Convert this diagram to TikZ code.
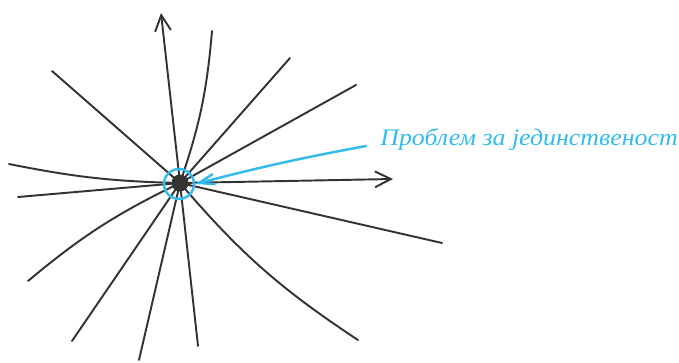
\documentclass[tikz,border=0pt]{standalone}
\usepackage{fontspec}
\usepackage{graphicx}
\usepackage{xcolor}
\usepackage{tikz}
\usetikzlibrary{arrows.meta,positioning}
\newfontfamily\srbfont[Script=Cyrillic,Language=Serbian]{Liberation Serif}
\definecolor{inkgray}{HTML}{333333}
\definecolor{markblue}{HTML}{33BBEE}

\begin{document}
\begin{tikzpicture}[
    x=0.02cm, y=0.02cm,
    ray/.style={draw=inkgray, line width=1.1pt, line cap=round},
    axis/.style={ray, -{Straight Barb[length=9pt,width=9pt,line width=1.1pt]}},
    hub/.style={circle, fill=inkgray, inner sep=0pt, minimum size=0.34cm},
    halo/.style={circle, draw=markblue, line width=1.4pt, inner sep=0pt, minimum size=0.6cm},
    pointer/.style={draw=markblue, line width=1.4pt, line cap=round, -{Straight Barb[length=9pt,width=6pt,line width=1.4pt]}},
    note/.style={text=markblue, font=\srbfont\itshape\fontsize{13.5}{15}\selectfont, inner xsep=0.28cm, anchor=base west}
]
\useasboundingbox (0,0) rectangle (679,362);

% Center point
\node[hub] (hub) at (180,179) {};

% Ends of the rays
\coordinate (up) at (161,349);
\coordinate (n1) at (212,331);
\coordinate (n2) at (290,304);
\coordinate (n3) at (356,277);
\coordinate (w1) at (52,291);
\coordinate (w2) at (9,198);
\coordinate (w3) at (18,165);
\coordinate (right) at (393,183);
\coordinate (s1) at (442,119);
\coordinate (s2) at (358,22);
\coordinate (s3) at (198,16);
\coordinate (s4) at (139,2);
\coordinate (s5) at (72,21);
\coordinate (s6) at (28,81);

% Axes
\draw[axis] (hub.center) -- (up);
\draw[axis] (hub.center) -- (right);

% Rays
\draw[ray] (hub.center) to[bend right=7] (n1);
\draw[ray] (hub.center) -- (n2);
\draw[ray] (hub.center) -- (n3);
\draw[ray] (hub.center) -- (w1);
\draw[ray] (hub.center) to[bend left=5] (w2);
\draw[ray] (hub.center) -- (w3);
\draw[ray] (hub.center) -- (s1);
\draw[ray] (hub.center) to[bend right=8] (s2);
\draw[ray] (hub.center) -- (s3);
\draw[ray] (hub.center) -- (s4);
\draw[ray] (hub.center) -- (s5);
\draw[ray] (hub.center) to[bend right=7] (s6);

% Marked point
\node[halo] (halo) at (179,178) {};
\node[note] (lbl) at (366,216) {\scalebox{1.09}[1]{Проблем за јединственост}};
\draw[pointer] (lbl.base west) to[bend right=2] (halo.east);

\end{tikzpicture}
\end{document}
